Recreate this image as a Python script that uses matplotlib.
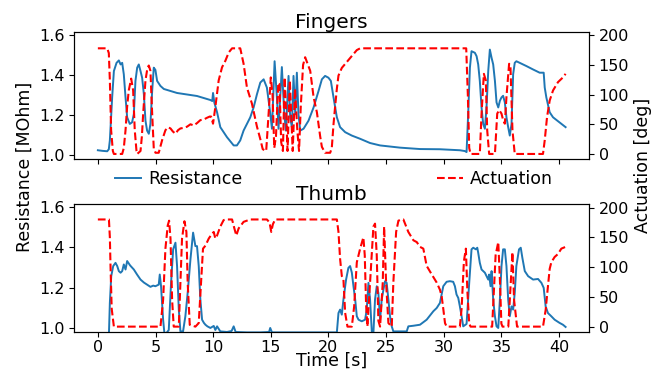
import numpy as np
import matplotlib.pyplot as plt

# ---- Fingers ----
t_fing_res = [0.0, 0.4, 0.81, 0.95, 1.04, 1.24, 1.39, 1.62, 1.82, 1.97, 2.11, 2.25, 2.40, 2.54,
              2.77, 2.97, 3.12, 3.26, 3.41, 3.55, 3.70, 3.84, 3.99, 4.13, 4.27, 4.42, 4.56, 4.71,
              4.85, 4.99, 5.14, 5.43, 5.72, 6.30, 6.87, 7.45, 8.03, 8.60, 9.18, 9.76, 9.92, 9.99,
              10.10, 10.34, 10.62, 11.20, 11.78, 12.06, 12.35, 12.64, 13.22, 13.51, 13.80, 14.09,
              14.38, 14.66, 14.89, 15.10, 15.33, 15.53, 15.67, 15.96, 16.17, 16.31, 16.54, 16.68,
              16.83, 16.97, 17.12, 17.26, 17.40, 17.55, 17.84, 18.27, 18.71, 19.14, 19.43, 19.71,
              20.00, 20.21, 20.44, 20.73, 21.01, 21.45, 22.03, 22.75, 23.61, 24.48, 26.21, 27.94,
              29.67, 31.40, 31.83, 31.98, 32.12, 32.27, 32.41, 32.70, 32.85, 32.99, 33.13, 33.28,
              33.42, 33.57, 33.71, 33.86, 34.00, 34.15, 34.29, 34.44, 34.58, 34.73, 34.87, 35.01,
              35.15, 35.30, 35.44, 35.59, 35.73, 35.88, 36.02, 36.16, 36.30, 36.59, 37.17, 37.75,
              38.32, 38.67, 38.76, 38.90, 39.19, 39.48, 39.77, 40.05, 40.57]
fing_res = [1.025, 1.022, 1.020, 1.030, 1.074, 1.288, 1.419, 1.460, 1.472, 1.452, 1.460, 1.403, 1.288, 1.189,
            1.156, 1.164, 1.205, 1.370, 1.436, 1.452, 1.419, 1.386, 1.304, 1.172, 1.123, 1.107, 1.156, 1.320,
            1.436, 1.425, 1.370, 1.345, 1.330, 1.320, 1.310, 1.305, 1.300, 1.295, 1.285, 1.275, 1.270, 1.310,
            1.263, 1.214, 1.140, 1.090, 1.049, 1.049, 1.074, 1.123, 1.189, 1.238, 1.304, 1.362,
            1.378, 1.337, 1.238, 1.132, 1.468, 1.288, 1.132, 1.439, 1.205, 1.123, 1.395, 1.189,
            1.140, 1.395, 1.205, 1.411, 1.205, 1.123, 1.132, 1.172, 1.238, 1.320, 1.378, 1.395,
            1.386, 1.370, 1.288, 1.189, 1.140, 1.115, 1.098, 1.082, 1.061, 1.049, 1.038, 1.031,
            1.030, 1.025, 1.021, 1.016, 1.205, 1.436, 1.518, 1.510, 1.493, 1.452, 1.370, 1.238,
            1.156, 1.132, 1.238, 1.419, 1.526, 1.485, 1.452, 1.370, 1.263, 1.238, 1.271, 1.288,
            1.296, 1.263, 1.189, 1.140, 1.098, 1.156, 1.403, 1.460, 1.468, 1.460, 1.444, 1.427,
            1.411, 1.411, 1.337, 1.288, 1.214, 1.189, 1.176, 1.164, 1.140]

t_fing_act = [0.0, 0.81, 0.95, 1.04, 1.15, 1.30, 1.39, 2.11, 2.25, 2.40, 2.54, 2.68, 2.89, 3.06,
              3.20, 3.35, 3.41, 3.70, 3.82, 3.93, 4.13, 4.30, 4.42, 4.56, 4.71, 4.85, 5.00, 5.28,
              5.57, 5.86, 6.08, 6.30, 6.50, 6.73, 6.95, 7.16, 7.45, 7.74, 8.03, 8.32, 8.60, 8.89,
              9.18, 9.47, 9.70, 9.82, 9.99, 10.19, 10.48, 10.77, 11.06, 11.35, 11.64, 12.35, 12.64,
              12.93, 13.36, 13.80, 14.09, 14.30, 14.60, 14.85, 15.00, 15.15, 15.30, 15.45, 15.65,
              15.75, 15.90, 16.05, 16.20, 16.35, 16.45, 16.65, 16.80, 16.90, 17.10, 17.30, 17.45,
              17.60, 17.80, 17.98, 18.13, 18.42, 18.71, 19.00, 19.28, 19.43, 19.71, 20.15, 20.29,
              20.44, 20.58, 20.73, 20.87, 21.16, 21.59, 22.03, 22.46, 22.75, 31.95, 32.09, 32.21,
              32.33, 33.13, 33.28, 33.48, 33.65, 33.77, 33.94, 34.44, 34.64, 34.81, 35.01, 35.15,
              35.30, 35.44, 35.67, 35.79, 35.96, 36.16, 38.61, 38.76, 38.96, 39.19, 39.48, 39.91,
              40.34, 40.57]
fing_act = [178, 178, 170, 124, 40, 5, 0, 0, 10, 40, 80, 107, 127, 107,
            40, 5, 0, 5, 30, 68, 124, 145, 149, 140, 68, 9, 2, 2,
            23, 40, 45, 43, 38, 34, 40, 43, 44, 46, 50, 48, 52, 57,
            58, 61, 63, 63, 51, 79, 124, 146, 157, 171, 178, 178, 152,
            112, 85, 46, 25, 8, 5, 80, 129, 100, 10, 30, 120,
            118, 20, 5, 129, 60, 5, 124, 50, 5, 110, 40, 5,
            80, 150, 163, 155, 140, 96, 70, 30, 12, 2, 2, 10,
            50, 80, 110, 132, 145, 155, 165, 175, 178, 178, 100, 10,
            0, 0, 68, 135, 124, 40, 0, 0, 68, 74, 68, 57,
            51, 96, 152, 146, 40, 0, 0, 23, 62, 90, 107, 121,
            129, 135]

# ---- Thumb ----
t_thumb_res = [0.0, 0.90, 0.96, 1.04, 1.16, 1.33, 1.53, 1.68, 1.82, 1.97, 2.11, 2.25, 2.40, 2.54,
               2.80, 3.12, 3.40, 3.70, 4.00, 4.27, 4.56, 4.80, 4.99, 5.28, 5.37, 5.48, 5.66, 5.77,
               5.95, 6.15, 6.35, 6.53, 6.73, 6.87, 7.02, 7.16, 7.39, 7.59, 7.79, 8.03, 8.26, 8.46,
               8.60, 8.75, 8.89, 9.04, 9.20, 9.33, 9.50, 9.76, 10.05, 10.19, 10.34, 10.62, 11.20,
               11.60, 11.78, 11.95, 12.93, 14.09, 14.85, 14.95, 15.10, 20.73, 20.87, 21.01, 21.16,
               21.30, 21.53, 21.73, 21.88, 22.03, 22.17, 22.32, 22.46, 22.61, 22.89, 23.18, 23.32,
               23.47, 23.61, 23.76, 23.90, 24.04, 24.19, 24.33, 24.48, 24.62, 24.77, 24.91, 25.05,
               25.20, 25.34, 25.49, 25.63, 26.79, 26.93, 27.37, 27.94, 28.52, 29.10, 29.39, 29.67,
               29.96, 30.25, 30.53, 30.82, 30.97, 31.11, 31.26, 31.40, 31.55, 31.69, 31.98, 32.21,
               32.41, 32.56, 32.79, 32.91, 32.99, 33.13, 33.28, 33.57, 33.71, 33.86, 33.94, 34.06,
               34.15, 34.29, 34.44, 34.58, 34.73, 34.87, 35.01, 35.15, 35.30, 35.44, 35.59, 35.73,
               35.88, 36.02, 36.16, 36.30, 36.53, 36.68, 36.82, 37.03, 37.32, 37.75, 38.18, 38.47,
               38.67, 38.84, 39.04, 39.33, 39.62, 40.05, 40.34, 40.57]
thumb_res = [0.960, 0.960, 0.970, 1.124, 1.257, 1.307, 1.323, 1.307, 1.282, 1.274, 1.282, 1.315, 1.290, 1.332,
             1.310, 1.290, 1.265, 1.240, 1.225, 1.215, 1.204, 1.210, 1.207, 1.215, 1.265, 1.207, 1.041, 0.975,
             0.975, 0.990, 1.224, 1.390, 1.423, 1.307, 1.091, 0.983, 0.983, 1.058, 1.174, 1.340, 1.473, 1.406,
             1.406, 1.307, 1.141, 1.041, 1.025, 1.016, 1.008, 1.000, 1.010, 0.990, 1.008, 0.983, 0.980,
             0.985, 1.008, 0.980, 0.978, 0.978, 0.980, 1.000, 0.978, 0.978, 1.074, 1.091, 1.066,
             1.141, 1.240, 1.298, 1.307, 1.274, 1.207, 1.141, 1.058, 1.041, 1.033, 1.041, 1.091,
             1.224, 1.141, 0.983, 0.975, 1.141, 1.207, 1.174, 1.041, 1.141, 1.190, 1.232, 1.224,
             1.141, 1.058, 1.008, 0.983, 0.983, 1.008, 1.011, 1.016, 1.041, 1.083, 1.099, 1.124,
             1.207, 1.229, 1.232, 1.229, 1.207, 1.166, 1.149, 1.107, 1.058, 1.008, 1.020, 1.224,
             1.390, 1.398, 1.390, 1.398, 1.373, 1.323, 1.290, 1.274, 1.257, 1.240, 1.265, 1.207,
             1.282, 1.141, 1.058, 1.008, 1.000, 1.141, 1.307, 1.390, 1.390, 1.307, 1.141, 1.058,
             1.107, 1.091, 1.174, 1.307, 1.390, 1.398, 1.348, 1.282, 1.257, 1.240, 1.243, 1.224,
             1.199, 1.107, 1.074, 1.058, 1.041, 1.025, 1.016, 1.005]

t_thumb_act = [0.0, 0.96, 1.04, 1.10, 1.20, 1.39, 5.43, 5.66, 5.86, 6.06, 6.18, 6.30, 6.44, 6.58,
               7.02, 7.16, 7.30, 7.51, 7.68, 7.79, 7.97, 8.46, 8.75, 8.95, 9.12, 9.33, 9.62, 9.90,
               10.05, 10.19, 10.34, 10.62, 10.91, 11.20, 11.64, 11.84, 12.01, 12.21, 12.64, 13.22,
               14.66, 14.89, 15.04, 15.18, 15.38, 20.73, 20.87, 21.01, 21.16, 21.30, 21.45, 21.65,
               22.03, 22.23, 22.46, 22.75, 23.03, 23.15, 23.26, 23.38, 23.61, 23.90, 24.04, 24.19,
               24.33, 24.48, 24.71, 24.83, 25.00, 25.20, 25.49, 25.63, 25.87, 26.07, 26.36, 26.50,
               26.93, 27.37, 27.66, 27.94, 28.23, 28.52, 28.95, 29.39, 29.67, 29.82, 29.96, 30.11,
               30.25, 31.40, 31.55, 31.75, 31.92, 32.05, 32.21, 32.33, 34.20, 34.35, 34.50, 34.73,
               34.87, 35.00, 35.10, 35.60, 35.73, 35.96, 36.10, 36.36, 38.61, 38.84, 39.04, 39.19,
               39.33, 39.62, 39.91, 40.20, 40.57]
thumb_act = [180, 180, 150, 100, 30, 0, 0, 45, 131, 170, 178, 148, 45, 0,
             0, 74, 148, 177, 159, 74, 3, 0, 6, 74, 131, 136, 148, 156,
             159, 148, 153, 168, 179, 180, 180, 165, 153, 165, 176, 180,
             180, 175, 159, 172, 180, 180, 159, 114, 85, 79, 23, 0,
             0, 34, 108, 131, 150, 120, 40, 0, 74, 168, 173, 120,
             10, 0, 74, 168, 74, 6, 0, 74, 159, 178, 180, 180,
             159, 145, 142, 134, 131, 102, 88, 74, 62, 51, 30, 6,
             0, 0, 30, 110, 131, 60, 5, 0, 0, 60, 120, 142,
             80, 5, 0, 0, 45, 125, 45, 0, 0, 28, 68, 97,
             108, 117, 122, 131, 134]

panels = [('Fingers', t_fing_res, fing_res, t_fing_act, fing_act),
          ('Thumb', t_thumb_res, thumb_res, t_thumb_act, thumb_act)]

fig = plt.figure(figsize=(6.62, 3.69), dpi=100)
ax_top = fig.add_axes([0.1125, 0.5683, 0.7772, 0.3458])
ax_bot = fig.add_axes([0.1125, 0.1003, 0.7772, 0.3469], sharex=ax_top)

for ax, (title, tr, res, ta, act) in zip([ax_top, ax_bot], panels):
    l1, = ax.plot(tr, res, color='#1f77b4', lw=1.4, label='Resistance')
    axr = ax.twinx()
    l2, = axr.plot(ta, act, 'r--', lw=1.5, label='Actuation')
    ax.set_ylim(0.98, 1.615)
    ax.set_yticks([1.0, 1.2, 1.4, 1.6])
    axr.set_ylim(-9, 206)
    axr.set_yticks([0, 50, 100, 150, 200])
    ax.tick_params(labelsize=11.5)
    axr.tick_params(labelsize=11.5)
    ax.set_title(title, fontsize=14.5, pad=3)

ax_top.set_xticks([0, 5, 10, 15, 20, 25, 30, 35, 40])
ax_top.tick_params(labelbottom=False)
ax_bot.tick_params(axis='x', pad=2.5)

fig.legend([l1, l2], ['Resistance', 'Actuation'], loc='center',
           bbox_to_anchor=(0.163, 0.515, 0.683, 0), mode='expand', ncol=2,
           frameon=False, fontsize=12.5, handlelength=1.5, handletextpad=0.4,
           borderaxespad=0)

fig.text(0.037, 0.547, 'Resistance [MOhm]', rotation=90, ha='center', va='center', fontsize=12.5)
fig.text(0.971, 0.553, 'Actuation [deg]', rotation=90, ha='center', va='center', fontsize=12.5)
fig.text(0.501, 0.022, 'Time [s]', ha='center', va='center', fontsize=12.5)

fig.savefig('out.png', dpi=100)
